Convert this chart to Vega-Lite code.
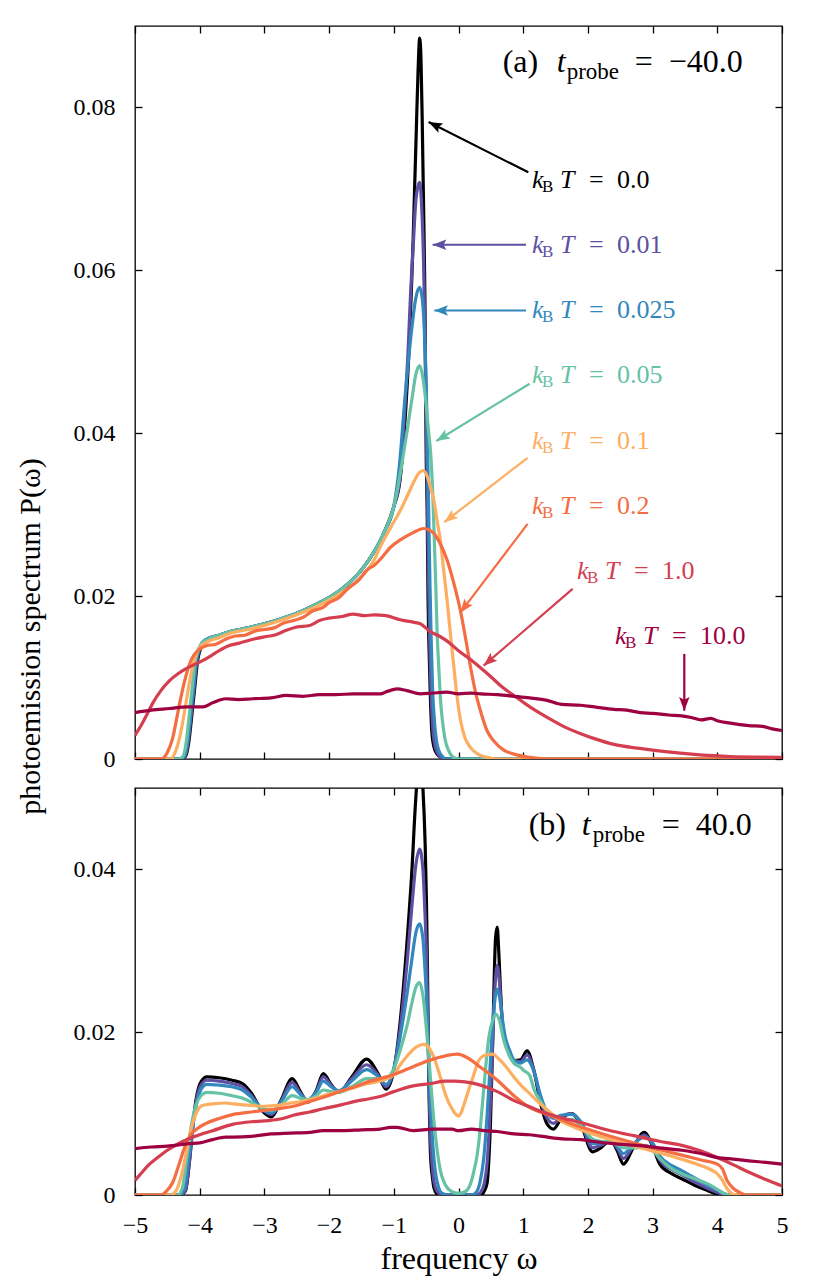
{
  "$schema": "https://vega.github.io/schema/vega-lite/v6.json",
  "padding": {"left": 14, "top": 24, "right": 10, "bottom": 5},
  "spacing": 29,
  "bounds": "flush",
  "config": {
    "font": "Liberation Serif, DejaVu Serif, serif",
    "text": {"font": "Liberation Serif, DejaVu Serif, serif"},
    "view": {"stroke": "black", "strokeWidth": 1.3},
    "axis": {"domain": false, "grid": false, "tickColor": "black", "tickWidth": 1.3, "tickSize": -7, "labelFont": "Liberation Serif, DejaVu Serif, serif", "titleFont": "Liberation Serif, DejaVu Serif, serif", "labelFontSize": 24, "labelColor": "black", "titleColor": "black", "titleFontWeight": "normal", "labelFlush": false}
  },
  "datasets": {
    "a": [
      {"k":"0.0","x":-5,"y":0},{"k":"0.0","x":-4.3,"y":0},{"k":"0.0","x":-4.22,"y":0.0003},{"k":"0.0","x":-4.17,"y":0.002},{"k":"0.0","x":-4.12,"y":0.0055},{"k":"0.0","x":-4.08,"y":0.0085},{"k":"0.0","x":-4.03,"y":0.0122},{"k":"0.0","x":-3.97,"y":0.0139},{"k":"0.0","x":-3.9,"y":0.0146},{"k":"0.0","x":-3.7,"y":0.0152},{"k":"0.0","x":-3.5,"y":0.0157},{"k":"0.0","x":-3.25,"y":0.0161},{"k":"0.0","x":-3,"y":0.0166},{"k":"0.0","x":-2.75,"y":0.0172},{"k":"0.0","x":-2.5,"y":0.0179},{"k":"0.0","x":-2.25,"y":0.0188},{"k":"0.0","x":-2,"y":0.0198},{"k":"0.0","x":-1.75,"y":0.0212},{"k":"0.0","x":-1.5,"y":0.0232},{"k":"0.0","x":-1.3,"y":0.0255},{"k":"0.0","x":-1.15,"y":0.0278},{"k":"0.0","x":-1,"y":0.031},{"k":"0.0","x":-0.9,"y":0.0345},{"k":"0.0","x":-0.8,"y":0.045},{"k":"0.0","x":-0.76,"y":0.051},{"k":"0.0","x":-0.73,"y":0.0573},{"k":"0.0","x":-0.7,"y":0.064},{"k":"0.0","x":-0.68,"y":0.0696},{"k":"0.0","x":-0.65,"y":0.0778},{"k":"0.0","x":-0.625,"y":0.0845},{"k":"0.0","x":-0.6,"y":0.0885},{"k":"0.0","x":-0.58,"y":0.086},{"k":"0.0","x":-0.56,"y":0.078},{"k":"0.0","x":-0.54,"y":0.068},{"k":"0.0","x":-0.52,"y":0.057},{"k":"0.0","x":-0.507,"y":0.045},{"k":"0.0","x":-0.5,"y":0.038},{"k":"0.0","x":-0.485,"y":0.031},{"k":"0.0","x":-0.47,"y":0.0194},{"k":"0.0","x":-0.45,"y":0.012},{"k":"0.0","x":-0.433,"y":0.0072},{"k":"0.0","x":-0.41,"y":0.0031},{"k":"0.0","x":-0.38,"y":0.0015},{"k":"0.0","x":-0.33,"y":0.0006},{"k":"0.0","x":-0.25,"y":0.0001},{"k":"0.0","x":-0.2,"y":0},{"k":"0.0","x":5,"y":0},

      {"k":"0.01","x":-5,"y":0},{"k":"0.01","x":-4.31,"y":0},{"k":"0.01","x":-4.23,"y":0.0003},{"k":"0.01","x":-4.18,"y":0.002},{"k":"0.01","x":-4.13,"y":0.0055},{"k":"0.01","x":-4.09,"y":0.0085},{"k":"0.01","x":-4.04,"y":0.0122},{"k":"0.01","x":-3.98,"y":0.0139},{"k":"0.01","x":-3.91,"y":0.0146},{"k":"0.01","x":-3.7,"y":0.0152},{"k":"0.01","x":-3.5,"y":0.0157},{"k":"0.01","x":-3.25,"y":0.0161},{"k":"0.01","x":-3,"y":0.0166},{"k":"0.01","x":-2.75,"y":0.0172},{"k":"0.01","x":-2.5,"y":0.0179},{"k":"0.01","x":-2.25,"y":0.0188},{"k":"0.01","x":-2,"y":0.0198},{"k":"0.01","x":-1.75,"y":0.0212},{"k":"0.01","x":-1.5,"y":0.0232},{"k":"0.01","x":-1.3,"y":0.0255},{"k":"0.01","x":-1.15,"y":0.0278},{"k":"0.01","x":-1,"y":0.031},{"k":"0.01","x":-0.9,"y":0.0348},{"k":"0.01","x":-0.83,"y":0.043},{"k":"0.01","x":-0.78,"y":0.05},{"k":"0.01","x":-0.74,"y":0.0573},{"k":"0.01","x":-0.7,"y":0.063},{"k":"0.01","x":-0.66,"y":0.0685},{"k":"0.01","x":-0.62,"y":0.0705},{"k":"0.01","x":-0.6,"y":0.0708},{"k":"0.01","x":-0.57,"y":0.068},{"k":"0.01","x":-0.54,"y":0.061},{"k":"0.01","x":-0.52,"y":0.053},{"k":"0.01","x":-0.5,"y":0.042},{"k":"0.01","x":-0.48,"y":0.031},{"k":"0.01","x":-0.46,"y":0.021},{"k":"0.01","x":-0.44,"y":0.0125},{"k":"0.01","x":-0.42,"y":0.0072},{"k":"0.01","x":-0.4,"y":0.004},{"k":"0.01","x":-0.36,"y":0.0015},{"k":"0.01","x":-0.3,"y":0.0004},{"k":"0.01","x":-0.22,"y":0},{"k":"0.01","x":5,"y":0},

      {"k":"0.025","x":-5,"y":0},{"k":"0.025","x":-4.32,"y":0},{"k":"0.025","x":-4.24,"y":0.0003},{"k":"0.025","x":-4.19,"y":0.002},{"k":"0.025","x":-4.14,"y":0.0055},{"k":"0.025","x":-4.1,"y":0.0085},{"k":"0.025","x":-4.05,"y":0.0122},{"k":"0.025","x":-3.99,"y":0.0139},{"k":"0.025","x":-3.92,"y":0.0146},{"k":"0.025","x":-3.7,"y":0.0152},{"k":"0.025","x":-3.5,"y":0.0157},{"k":"0.025","x":-3.25,"y":0.0161},{"k":"0.025","x":-3,"y":0.0166},{"k":"0.025","x":-2.75,"y":0.0172},{"k":"0.025","x":-2.5,"y":0.0179},{"k":"0.025","x":-2.25,"y":0.0188},{"k":"0.025","x":-2,"y":0.0198},{"k":"0.025","x":-1.75,"y":0.0212},{"k":"0.025","x":-1.5,"y":0.0232},{"k":"0.025","x":-1.3,"y":0.0255},{"k":"0.025","x":-1.15,"y":0.0278},{"k":"0.025","x":-1,"y":0.031},{"k":"0.025","x":-0.92,"y":0.0355},{"k":"0.025","x":-0.82,"y":0.045},{"k":"0.025","x":-0.72,"y":0.053},{"k":"0.025","x":-0.66,"y":0.0566},{"k":"0.025","x":-0.6,"y":0.0579},{"k":"0.025","x":-0.56,"y":0.0565},{"k":"0.025","x":-0.53,"y":0.053},{"k":"0.025","x":-0.5,"y":0.046},{"k":"0.025","x":-0.48,"y":0.039},{"k":"0.025","x":-0.46,"y":0.03},{"k":"0.025","x":-0.44,"y":0.021},{"k":"0.025","x":-0.42,"y":0.014},{"k":"0.025","x":-0.4,"y":0.0085},{"k":"0.025","x":-0.37,"y":0.0045},{"k":"0.025","x":-0.33,"y":0.0018},{"k":"0.025","x":-0.27,"y":0.0005},{"k":"0.025","x":-0.18,"y":0},{"k":"0.025","x":5,"y":0},

      {"k":"0.05","x":-5,"y":0},{"k":"0.05","x":-4.34,"y":0},{"k":"0.05","x":-4.26,"y":0.0003},{"k":"0.05","x":-4.21,"y":0.002},{"k":"0.05","x":-4.16,"y":0.0055},{"k":"0.05","x":-4.12,"y":0.0085},{"k":"0.05","x":-4.07,"y":0.0121},{"k":"0.05","x":-4,"y":0.0138},{"k":"0.05","x":-3.92,"y":0.0145},{"k":"0.05","x":-3.7,"y":0.0152},{"k":"0.05","x":-3.5,"y":0.0157},{"k":"0.05","x":-3.25,"y":0.0161},{"k":"0.05","x":-3,"y":0.0166},{"k":"0.05","x":-2.75,"y":0.0172},{"k":"0.05","x":-2.5,"y":0.0179},{"k":"0.05","x":-2.25,"y":0.0188},{"k":"0.05","x":-2,"y":0.0198},{"k":"0.05","x":-1.75,"y":0.0212},{"k":"0.05","x":-1.5,"y":0.0232},{"k":"0.05","x":-1.3,"y":0.0255},{"k":"0.05","x":-1.15,"y":0.0278},{"k":"0.05","x":-1,"y":0.031},{"k":"0.05","x":-0.95,"y":0.0328},{"k":"0.05","x":-0.87,"y":0.0365},{"k":"0.05","x":-0.8,"y":0.04},{"k":"0.05","x":-0.72,"y":0.0442},{"k":"0.05","x":-0.66,"y":0.0472},{"k":"0.05","x":-0.6,"y":0.0483},{"k":"0.05","x":-0.55,"y":0.0468},{"k":"0.05","x":-0.5,"y":0.0435},{"k":"0.05","x":-0.46,"y":0.04},{"k":"0.05","x":-0.43,"y":0.0375},{"k":"0.05","x":-0.4,"y":0.033},{"k":"0.05","x":-0.37,"y":0.026},{"k":"0.05","x":-0.35,"y":0.021},{"k":"0.05","x":-0.33,"y":0.0155},{"k":"0.05","x":-0.3,"y":0.0105},{"k":"0.05","x":-0.28,"y":0.0075},{"k":"0.05","x":-0.25,"y":0.0048},{"k":"0.05","x":-0.21,"y":0.0025},{"k":"0.05","x":-0.15,"y":0.001},{"k":"0.05","x":-0.08,"y":0.0002},{"k":"0.05","x":0,"y":0},{"k":"0.05","x":5,"y":0},

      {"k":"0.1","x":-5,"y":0},{"k":"0.1","x":-4.45,"y":0},{"k":"0.1","x":-4.38,"y":0.0008},{"k":"0.1","x":-4.3,"y":0.003},{"k":"0.1","x":-4.22,"y":0.0065},{"k":"0.1","x":-4.15,"y":0.0098},{"k":"0.1","x":-4.08,"y":0.0123},{"k":"0.1","x":-4,"y":0.0137},{"k":"0.1","x":-3.9,"y":0.0143},{"k":"0.1","x":-3.7,"y":0.0149},{"k":"0.1","x":-3.5,"y":0.0155},{"k":"0.1","x":-3.25,"y":0.0159},{"k":"0.1","x":-3,"y":0.0164},{"k":"0.1","x":-2.75,"y":0.017},{"k":"0.1","x":-2.5,"y":0.0177},{"k":"0.1","x":-2.25,"y":0.0185},{"k":"0.1","x":-2,"y":0.0195},{"k":"0.1","x":-1.75,"y":0.0207},{"k":"0.1","x":-1.5,"y":0.0224},{"k":"0.1","x":-1.3,"y":0.0245},{"k":"0.1","x":-1.2,"y":0.0262},{"k":"0.1","x":-1.05,"y":0.0284},{"k":"0.1","x":-0.9,"y":0.0305},{"k":"0.1","x":-0.78,"y":0.0325},{"k":"0.1","x":-0.68,"y":0.0342},{"k":"0.1","x":-0.6,"y":0.0352},{"k":"0.1","x":-0.54,"y":0.0354},{"k":"0.1","x":-0.48,"y":0.0346},{"k":"0.1","x":-0.42,"y":0.033},{"k":"0.1","x":-0.38,"y":0.0317},{"k":"0.1","x":-0.33,"y":0.0292},{"k":"0.1","x":-0.28,"y":0.0268},{"k":"0.1","x":-0.23,"y":0.0232},{"k":"0.1","x":-0.175,"y":0.0194},{"k":"0.1","x":-0.12,"y":0.015},{"k":"0.1","x":-0.072,"y":0.0113},{"k":"0.1","x":-0.02,"y":0.0075},{"k":"0.1","x":0.03,"y":0.0048},{"k":"0.1","x":0.1,"y":0.0026},{"k":"0.1","x":0.186,"y":0.0014},{"k":"0.1","x":0.3,"y":0.0006},{"k":"0.1","x":0.44,"y":0.0002},{"k":"0.1","x":0.6,"y":0},{"k":"0.1","x":5,"y":0},

      {"k":"0.2","x":-5,"y":0},{"k":"0.2","x":-4.6,"y":0},{"k":"0.2","x":-4.5,"y":0.0008},{"k":"0.2","x":-4.42,"y":0.0025},{"k":"0.2","x":-4.35,"y":0.0052},{"k":"0.2","x":-4.29,"y":0.0076},{"k":"0.2","x":-4.22,"y":0.01},{"k":"0.2","x":-4.13,"y":0.0122},{"k":"0.2","x":-4.03,"y":0.0133},{"k":"0.2","x":-3.9,"y":0.0139},{"k":"0.2","x":-3.75,"y":0.0141},{"k":"0.2","x":-3.6,"y":0.0147},{"k":"0.2","x":-3.45,"y":0.0151},{"k":"0.2","x":-3.3,"y":0.0152},{"k":"0.2","x":-3.15,"y":0.0157},{"k":"0.2","x":-3,"y":0.0159},{"k":"0.2","x":-2.85,"y":0.0161},{"k":"0.2","x":-2.7,"y":0.0167},{"k":"0.2","x":-2.55,"y":0.017},{"k":"0.2","x":-2.4,"y":0.0174},{"k":"0.2","x":-2.25,"y":0.0182},{"k":"0.2","x":-2.1,"y":0.0186},{"k":"0.2","x":-2,"y":0.0192},{"k":"0.2","x":-1.85,"y":0.0198},{"k":"0.2","x":-1.7,"y":0.021},{"k":"0.2","x":-1.55,"y":0.0219},{"k":"0.2","x":-1.4,"y":0.0233},{"k":"0.2","x":-1.3,"y":0.0238},{"k":"0.2","x":-1.21,"y":0.0245},{"k":"0.2","x":-1.05,"y":0.026},{"k":"0.2","x":-0.9,"y":0.0269},{"k":"0.2","x":-0.7,"y":0.0278},{"k":"0.2","x":-0.54,"y":0.0283},{"k":"0.2","x":-0.45,"y":0.0281},{"k":"0.2","x":-0.38,"y":0.0277},{"k":"0.2","x":-0.28,"y":0.0264},{"k":"0.2","x":-0.175,"y":0.0244},{"k":"0.2","x":-0.07,"y":0.0215},{"k":"0.2","x":0.03,"y":0.0182},{"k":"0.2","x":0.11,"y":0.0148},{"k":"0.2","x":0.186,"y":0.0113},{"k":"0.2","x":0.26,"y":0.0083},{"k":"0.2","x":0.34,"y":0.0059},{"k":"0.2","x":0.44,"y":0.0035},{"k":"0.2","x":0.546,"y":0.0022},{"k":"0.2","x":0.7,"y":0.0011},{"k":"0.2","x":0.856,"y":0.0006},{"k":"0.2","x":1.1,"y":0.0002},{"k":"0.2","x":1.4,"y":0},{"k":"0.2","x":5,"y":0},

      {"k":"1.0","x":-5,"y":0.0029},{"k":"1.0","x":-4.9,"y":0.0042},{"k":"1.0","x":-4.8,"y":0.0057},{"k":"1.0","x":-4.73,"y":0.0068},{"k":"1.0","x":-4.6,"y":0.0084},{"k":"1.0","x":-4.47,"y":0.0096},{"k":"1.0","x":-4.33,"y":0.0105},{"k":"1.0","x":-4.21,"y":0.0111},{"k":"1.0","x":-4.08,"y":0.0116},{"k":"1.0","x":-3.95,"y":0.0121},{"k":"1.0","x":-3.82,"y":0.0127},{"k":"1.0","x":-3.7,"y":0.0133},{"k":"1.0","x":-3.55,"y":0.0139},{"k":"1.0","x":-3.4,"y":0.0142},{"k":"1.0","x":-3.18,"y":0.0147},{"k":"1.0","x":-3,"y":0.015},{"k":"1.0","x":-2.85,"y":0.0152},{"k":"1.0","x":-2.66,"y":0.0158},{"k":"1.0","x":-2.5,"y":0.0162},{"k":"1.0","x":-2.3,"y":0.0164},{"k":"1.0","x":-2.15,"y":0.017},{"k":"1.0","x":-2,"y":0.0173},{"k":"1.0","x":-1.8,"y":0.0175},{"k":"1.0","x":-1.63,"y":0.0178},{"k":"1.0","x":-1.45,"y":0.0176},{"k":"1.0","x":-1.3,"y":0.0177},{"k":"1.0","x":-1.12,"y":0.0176},{"k":"1.0","x":-0.9,"y":0.0171},{"k":"1.0","x":-0.7,"y":0.0168},{"k":"1.0","x":-0.59,"y":0.0166},{"k":"1.0","x":-0.43,"y":0.0156},{"k":"1.0","x":-0.3,"y":0.0151},{"k":"1.0","x":-0.18,"y":0.0145},{"k":"1.0","x":0,"y":0.0133},{"k":"1.0","x":0.17,"y":0.0123},{"k":"1.0","x":0.34,"y":0.0112},{"k":"1.0","x":0.5,"y":0.0101},{"k":"1.0","x":0.68,"y":0.0088},{"k":"1.0","x":0.856,"y":0.0078},{"k":"1.0","x":1.03,"y":0.0068},{"k":"1.0","x":1.2,"y":0.0059},{"k":"1.0","x":1.37,"y":0.0051},{"k":"1.0","x":1.6,"y":0.0041},{"k":"1.0","x":1.89,"y":0.0031},{"k":"1.0","x":2.1,"y":0.0025},{"k":"1.0","x":2.4,"y":0.0018},{"k":"1.0","x":2.8,"y":0.0013},{"k":"1.0","x":3.2,"y":0.0009},{"k":"1.0","x":3.6,"y":0.0006},{"k":"1.0","x":4.2,"y":0.0003},{"k":"1.0","x":5,"y":0.0002},

      {"k":"10.0","x":-5,"y":0.0057},{"k":"10.0","x":-4.75,"y":0.006},{"k":"10.0","x":-4.47,"y":0.0062},{"k":"10.0","x":-4.2,"y":0.0064},{"k":"10.0","x":-3.95,"y":0.0064},{"k":"10.0","x":-3.8,"y":0.0069},{"k":"10.0","x":-3.6,"y":0.0074},{"k":"10.0","x":-3.4,"y":0.0073},{"k":"10.0","x":-3.18,"y":0.0074},{"k":"10.0","x":-2.9,"y":0.0075},{"k":"10.0","x":-2.66,"y":0.0078},{"k":"10.0","x":-2.4,"y":0.0077},{"k":"10.0","x":-2.15,"y":0.0079},{"k":"10.0","x":-1.9,"y":0.0079},{"k":"10.0","x":-1.63,"y":0.008},{"k":"10.0","x":-1.4,"y":0.008},{"k":"10.0","x":-1.21,"y":0.008},{"k":"10.0","x":-1.1,"y":0.0083},{"k":"10.0","x":-0.95,"y":0.0086},{"k":"10.0","x":-0.8,"y":0.0084},{"k":"10.0","x":-0.59,"y":0.008},{"k":"10.0","x":-0.4,"y":0.0081},{"k":"10.0","x":-0.18,"y":0.0082},{"k":"10.0","x":0,"y":0.008},{"k":"10.0","x":0.2,"y":0.0081},{"k":"10.0","x":0.34,"y":0.008},{"k":"10.0","x":0.6,"y":0.0079},{"k":"10.0","x":0.86,"y":0.0077},{"k":"10.0","x":1.1,"y":0.0075},{"k":"10.0","x":1.37,"y":0.0072},{"k":"10.0","x":1.6,"y":0.0067},{"k":"10.0","x":1.89,"y":0.0066},{"k":"10.0","x":2.1,"y":0.0064},{"k":"10.0","x":2.4,"y":0.0061},{"k":"10.0","x":2.6,"y":0.006},{"k":"10.0","x":2.81,"y":0.0057},{"k":"10.0","x":3,"y":0.0056},{"k":"10.0","x":3.25,"y":0.0054},{"k":"10.0","x":3.45,"y":0.0053},{"k":"10.0","x":3.6,"y":0.0051},{"k":"10.0","x":3.75,"y":0.0048},{"k":"10.0","x":3.9,"y":0.005},{"k":"10.0","x":4,"y":0.0047},{"k":"10.0","x":4.2,"y":0.0044},{"k":"10.0","x":4.49,"y":0.0041},{"k":"10.0","x":4.7,"y":0.004},{"k":"10.0","x":4.85,"y":0.0037},{"k":"10.0","x":5,"y":0.0035}
    ],
    "b": [
      {"k":"0.0","x":-5,"y":0},{"k":"0.0","x":-4.3,"y":0},{"k":"0.0","x":-4.22,"y":0.0005},{"k":"0.0","x":-4.16,"y":0.004},{"k":"0.0","x":-4.1,"y":0.009},{"k":"0.0","x":-4.05,"y":0.012},{"k":"0.0","x":-3.98,"y":0.0139},{"k":"0.0","x":-3.89,"y":0.0145},{"k":"0.0","x":-3.7,"y":0.0144},{"k":"0.0","x":-3.5,"y":0.0141},{"k":"0.0","x":-3.34,"y":0.0137},{"k":"0.0","x":-3.2,"y":0.0125},{"k":"0.0","x":-3.05,"y":0.0105},{"k":"0.0","x":-2.89,"y":0.0096},{"k":"0.0","x":-2.75,"y":0.0115},{"k":"0.0","x":-2.57,"y":0.0143},{"k":"0.0","x":-2.45,"y":0.0128},{"k":"0.0","x":-2.33,"y":0.0114},{"k":"0.0","x":-2.2,"y":0.0128},{"k":"0.0","x":-2.09,"y":0.0149},{"k":"0.0","x":-1.97,"y":0.0136},{"k":"0.0","x":-1.85,"y":0.0126},{"k":"0.0","x":-1.65,"y":0.0145},{"k":"0.0","x":-1.42,"y":0.0167},{"k":"0.0","x":-1.25,"y":0.015},{"k":"0.0","x":-1.12,"y":0.013},{"k":"0.0","x":-1,"y":0.0153},{"k":"0.0","x":-0.9,"y":0.0214},{"k":"0.0","x":-0.79,"y":0.0317},{"k":"0.0","x":-0.72,"y":0.0399},{"k":"0.0","x":-0.665,"y":0.0481},{"k":"0.0","x":-0.6,"y":0.054},{"k":"0.0","x":-0.55,"y":0.05},{"k":"0.0","x":-0.515,"y":0.043},{"k":"0.0","x":-0.495,"y":0.036},{"k":"0.0","x":-0.48,"y":0.028},{"k":"0.0","x":-0.465,"y":0.018},{"k":"0.0","x":-0.45,"y":0.0105},{"k":"0.0","x":-0.433,"y":0.005},{"k":"0.0","x":-0.4,"y":0.002},{"k":"0.0","x":-0.38,"y":0.0009},{"k":"0.0","x":-0.33,"y":0.0001},{"k":"0.0","x":-0.28,"y":0},{"k":"0.0","x":0.35,"y":0},{"k":"0.0","x":0.4,"y":0.0005},{"k":"0.0","x":0.443,"y":0.0015},{"k":"0.0","x":0.47,"y":0.0045},{"k":"0.0","x":0.495,"y":0.0091},{"k":"0.0","x":0.536,"y":0.0214},{"k":"0.0","x":0.572,"y":0.0315},{"k":"0.0","x":0.598,"y":0.0329},{"k":"0.0","x":0.624,"y":0.0296},{"k":"0.0","x":0.65,"y":0.025},{"k":"0.0","x":0.675,"y":0.0214},{"k":"0.0","x":0.71,"y":0.0192},{"k":"0.0","x":0.753,"y":0.0181},{"k":"0.0","x":0.856,"y":0.0165},{"k":"0.0","x":0.959,"y":0.0166},{"k":"0.0","x":1.06,"y":0.0177},{"k":"0.0","x":1.165,"y":0.0153},{"k":"0.0","x":1.27,"y":0.0112},{"k":"0.0","x":1.37,"y":0.0087},{"k":"0.0","x":1.47,"y":0.0081},{"k":"0.0","x":1.58,"y":0.0093},{"k":"0.0","x":1.75,"y":0.01},{"k":"0.0","x":1.9,"y":0.0085},{"k":"0.0","x":2.07,"y":0.0053},{"k":"0.0","x":2.2,"y":0.0058},{"k":"0.0","x":2.35,"y":0.0067},{"k":"0.0","x":2.45,"y":0.0055},{"k":"0.0","x":2.55,"y":0.0038},{"k":"0.0","x":2.7,"y":0.0058},{"k":"0.0","x":2.87,"y":0.0077},{"k":"0.0","x":3,"y":0.006},{"k":"0.0","x":3.11,"y":0.0038},{"k":"0.0","x":3.3,"y":0.0026},{"k":"0.0","x":3.45,"y":0.002},{"k":"0.0","x":3.65,"y":0.0012},{"k":"0.0","x":3.8,"y":0.0007},{"k":"0.0","x":4,"y":0.0001},{"k":"0.0","x":4.1,"y":0},{"k":"0.0","x":5,"y":0},

      {"k":"0.01","x":-5,"y":0},{"k":"0.01","x":-4.3,"y":0},{"k":"0.01","x":-4.22,"y":0.0006},{"k":"0.01","x":-4.16,"y":0.004},{"k":"0.01","x":-4.1,"y":0.0088},{"k":"0.01","x":-4.05,"y":0.0117},{"k":"0.01","x":-3.98,"y":0.0135},{"k":"0.01","x":-3.89,"y":0.0141},{"k":"0.01","x":-3.7,"y":0.014},{"k":"0.01","x":-3.5,"y":0.0137},{"k":"0.01","x":-3.34,"y":0.0133},{"k":"0.01","x":-3.2,"y":0.0122},{"k":"0.01","x":-3.05,"y":0.0106},{"k":"0.01","x":-2.89,"y":0.0099},{"k":"0.01","x":-2.75,"y":0.0114},{"k":"0.01","x":-2.57,"y":0.0138},{"k":"0.01","x":-2.45,"y":0.0126},{"k":"0.01","x":-2.33,"y":0.0116},{"k":"0.01","x":-2.2,"y":0.0127},{"k":"0.01","x":-2.09,"y":0.0145},{"k":"0.01","x":-1.97,"y":0.0135},{"k":"0.01","x":-1.85,"y":0.0127},{"k":"0.01","x":-1.65,"y":0.0143},{"k":"0.01","x":-1.42,"y":0.016},{"k":"0.01","x":-1.25,"y":0.0148},{"k":"0.01","x":-1.12,"y":0.0133},{"k":"0.01","x":-1,"y":0.0155},{"k":"0.01","x":-0.9,"y":0.0205},{"k":"0.01","x":-0.79,"y":0.029},{"k":"0.01","x":-0.72,"y":0.0355},{"k":"0.01","x":-0.66,"y":0.0405},{"k":"0.01","x":-0.6,"y":0.0425},{"k":"0.01","x":-0.55,"y":0.04},{"k":"0.01","x":-0.52,"y":0.035},{"k":"0.01","x":-0.49,"y":0.028},{"k":"0.01","x":-0.47,"y":0.019},{"k":"0.01","x":-0.45,"y":0.0115},{"k":"0.01","x":-0.43,"y":0.0065},{"k":"0.01","x":-0.4,"y":0.003},{"k":"0.01","x":-0.36,"y":0.001},{"k":"0.01","x":-0.3,"y":0.0002},{"k":"0.01","x":-0.22,"y":0},{"k":"0.01","x":0.28,"y":0},{"k":"0.01","x":0.34,"y":0.0003},{"k":"0.01","x":0.4,"y":0.0015},{"k":"0.01","x":0.443,"y":0.004},{"k":"0.01","x":0.48,"y":0.009},{"k":"0.01","x":0.52,"y":0.017},{"k":"0.01","x":0.56,"y":0.025},{"k":"0.01","x":0.598,"y":0.0282},{"k":"0.01","x":0.635,"y":0.026},{"k":"0.01","x":0.675,"y":0.0215},{"k":"0.01","x":0.72,"y":0.019},{"k":"0.01","x":0.79,"y":0.0175},{"k":"0.01","x":0.856,"y":0.0165},{"k":"0.01","x":0.959,"y":0.0164},{"k":"0.01","x":1.06,"y":0.0172},{"k":"0.01","x":1.165,"y":0.0153},{"k":"0.01","x":1.27,"y":0.0117},{"k":"0.01","x":1.37,"y":0.0094},{"k":"0.01","x":1.47,"y":0.0088},{"k":"0.01","x":1.58,"y":0.0096},{"k":"0.01","x":1.75,"y":0.01},{"k":"0.01","x":1.9,"y":0.0087},{"k":"0.01","x":2.07,"y":0.0058},{"k":"0.01","x":2.2,"y":0.0061},{"k":"0.01","x":2.35,"y":0.0067},{"k":"0.01","x":2.45,"y":0.0058},{"k":"0.01","x":2.55,"y":0.0045},{"k":"0.01","x":2.7,"y":0.006},{"k":"0.01","x":2.87,"y":0.0074},{"k":"0.01","x":3,"y":0.0062},{"k":"0.01","x":3.11,"y":0.0043},{"k":"0.01","x":3.3,"y":0.0031},{"k":"0.01","x":3.45,"y":0.0025},{"k":"0.01","x":3.65,"y":0.0016},{"k":"0.01","x":3.8,"y":0.001},{"k":"0.01","x":4,"y":0.0003},{"k":"0.01","x":4.1,"y":0.0001},{"k":"0.01","x":4.2,"y":0},{"k":"0.01","x":5,"y":0},

      {"k":"0.025","x":-5,"y":0},{"k":"0.025","x":-4.32,"y":0},{"k":"0.025","x":-4.24,"y":0.0007},{"k":"0.025","x":-4.17,"y":0.0045},{"k":"0.025","x":-4.1,"y":0.0088},{"k":"0.025","x":-4.04,"y":0.0115},{"k":"0.025","x":-3.97,"y":0.0131},{"k":"0.025","x":-3.89,"y":0.0136},{"k":"0.025","x":-3.7,"y":0.0135},{"k":"0.025","x":-3.5,"y":0.0133},{"k":"0.025","x":-3.34,"y":0.0129},{"k":"0.025","x":-3.2,"y":0.012},{"k":"0.025","x":-3.05,"y":0.0107},{"k":"0.025","x":-2.89,"y":0.0101},{"k":"0.025","x":-2.75,"y":0.0113},{"k":"0.025","x":-2.57,"y":0.0133},{"k":"0.025","x":-2.45,"y":0.0124},{"k":"0.025","x":-2.33,"y":0.0117},{"k":"0.025","x":-2.2,"y":0.0126},{"k":"0.025","x":-2.09,"y":0.014},{"k":"0.025","x":-1.97,"y":0.0133},{"k":"0.025","x":-1.85,"y":0.0128},{"k":"0.025","x":-1.65,"y":0.014},{"k":"0.025","x":-1.42,"y":0.0154},{"k":"0.025","x":-1.25,"y":0.0146},{"k":"0.025","x":-1.12,"y":0.0136},{"k":"0.025","x":-1,"y":0.0155},{"k":"0.025","x":-0.9,"y":0.0195},{"k":"0.025","x":-0.79,"y":0.025},{"k":"0.025","x":-0.72,"y":0.029},{"k":"0.025","x":-0.66,"y":0.0322},{"k":"0.025","x":-0.6,"y":0.0333},{"k":"0.025","x":-0.55,"y":0.0315},{"k":"0.025","x":-0.52,"y":0.028},{"k":"0.025","x":-0.49,"y":0.0235},{"k":"0.025","x":-0.46,"y":0.017},{"k":"0.025","x":-0.43,"y":0.011},{"k":"0.025","x":-0.4,"y":0.0065},{"k":"0.025","x":-0.36,"y":0.003},{"k":"0.025","x":-0.31,"y":0.001},{"k":"0.025","x":-0.25,"y":0.0002},{"k":"0.025","x":-0.15,"y":0},{"k":"0.025","x":0.2,"y":0},{"k":"0.025","x":0.27,"y":0.0003},{"k":"0.025","x":0.33,"y":0.0015},{"k":"0.025","x":0.39,"y":0.0045},{"k":"0.025","x":0.44,"y":0.0095},{"k":"0.025","x":0.49,"y":0.016},{"k":"0.025","x":0.54,"y":0.0222},{"k":"0.025","x":0.598,"y":0.0253},{"k":"0.025","x":0.635,"y":0.0243},{"k":"0.025","x":0.68,"y":0.0215},{"k":"0.025","x":0.72,"y":0.0195},{"k":"0.025","x":0.79,"y":0.0178},{"k":"0.025","x":0.856,"y":0.0166},{"k":"0.025","x":0.959,"y":0.0162},{"k":"0.025","x":1.06,"y":0.0166},{"k":"0.025","x":1.165,"y":0.0152},{"k":"0.025","x":1.27,"y":0.0122},{"k":"0.025","x":1.37,"y":0.0101},{"k":"0.025","x":1.47,"y":0.0094},{"k":"0.025","x":1.58,"y":0.0098},{"k":"0.025","x":1.75,"y":0.0099},{"k":"0.025","x":1.9,"y":0.0089},{"k":"0.025","x":2.07,"y":0.0063},{"k":"0.025","x":2.2,"y":0.0064},{"k":"0.025","x":2.35,"y":0.0067},{"k":"0.025","x":2.45,"y":0.006},{"k":"0.025","x":2.55,"y":0.0051},{"k":"0.025","x":2.7,"y":0.0062},{"k":"0.025","x":2.87,"y":0.0071},{"k":"0.025","x":3,"y":0.0064},{"k":"0.025","x":3.11,"y":0.0048},{"k":"0.025","x":3.3,"y":0.0036},{"k":"0.025","x":3.45,"y":0.003},{"k":"0.025","x":3.65,"y":0.0021},{"k":"0.025","x":3.8,"y":0.0014},{"k":"0.025","x":4,"y":0.0006},{"k":"0.025","x":4.1,"y":0.0002},{"k":"0.025","x":4.2,"y":0},{"k":"0.025","x":5,"y":0},

      {"k":"0.05","x":-5,"y":0},{"k":"0.05","x":-4.35,"y":0},{"k":"0.05","x":-4.27,"y":0.0008},{"k":"0.05","x":-4.2,"y":0.0045},{"k":"0.05","x":-4.13,"y":0.0085},{"k":"0.05","x":-4.06,"y":0.011},{"k":"0.05","x":-3.98,"y":0.0122},{"k":"0.05","x":-3.89,"y":0.0126},{"k":"0.05","x":-3.7,"y":0.0125},{"k":"0.05","x":-3.5,"y":0.0122},{"k":"0.05","x":-3.34,"y":0.0119},{"k":"0.05","x":-3.2,"y":0.0114},{"k":"0.05","x":-3.05,"y":0.0107},{"k":"0.05","x":-2.89,"y":0.0104},{"k":"0.05","x":-2.75,"y":0.011},{"k":"0.05","x":-2.57,"y":0.0122},{"k":"0.05","x":-2.45,"y":0.0119},{"k":"0.05","x":-2.33,"y":0.0117},{"k":"0.05","x":-2.2,"y":0.0122},{"k":"0.05","x":-2.09,"y":0.0129},{"k":"0.05","x":-1.97,"y":0.0127},{"k":"0.05","x":-1.85,"y":0.0126},{"k":"0.05","x":-1.65,"y":0.0133},{"k":"0.05","x":-1.42,"y":0.0143},{"k":"0.05","x":-1.25,"y":0.0143},{"k":"0.05","x":-1.12,"y":0.0143},{"k":"0.05","x":-1,"y":0.0155},{"k":"0.05","x":-0.9,"y":0.0178},{"k":"0.05","x":-0.79,"y":0.021},{"k":"0.05","x":-0.72,"y":0.0236},{"k":"0.05","x":-0.66,"y":0.0255},{"k":"0.05","x":-0.6,"y":0.0261},{"k":"0.05","x":-0.55,"y":0.0245},{"k":"0.05","x":-0.485,"y":0.0194},{"k":"0.05","x":-0.43,"y":0.014},{"k":"0.05","x":-0.38,"y":0.0091},{"k":"0.05","x":-0.33,"y":0.0055},{"k":"0.05","x":-0.28,"y":0.003},{"k":"0.05","x":-0.2,"y":0.0012},{"k":"0.05","x":-0.1,"y":0.0004},{"k":"0.05","x":0,"y":0.0002},{"k":"0.05","x":0.1,"y":0.0004},{"k":"0.05","x":0.186,"y":0.0014},{"k":"0.05","x":0.24,"y":0.003},{"k":"0.05","x":0.29,"y":0.005},{"k":"0.05","x":0.34,"y":0.0085},{"k":"0.05","x":0.39,"y":0.013},{"k":"0.05","x":0.47,"y":0.0194},{"k":"0.05","x":0.53,"y":0.0215},{"k":"0.05","x":0.58,"y":0.0222},{"k":"0.05","x":0.63,"y":0.0215},{"k":"0.05","x":0.7,"y":0.019},{"k":"0.05","x":0.78,"y":0.0172},{"k":"0.05","x":0.856,"y":0.0162},{"k":"0.05","x":0.959,"y":0.0157},{"k":"0.05","x":1.01,"y":0.0153},{"k":"0.05","x":1.1,"y":0.0147},{"k":"0.05","x":1.165,"y":0.013},{"k":"0.05","x":1.27,"y":0.0115},{"k":"0.05","x":1.37,"y":0.0103},{"k":"0.05","x":1.47,"y":0.0098},{"k":"0.05","x":1.58,"y":0.0093},{"k":"0.05","x":1.75,"y":0.0093},{"k":"0.05","x":1.9,"y":0.0085},{"k":"0.05","x":2.07,"y":0.0069},{"k":"0.05","x":2.2,"y":0.0066},{"k":"0.05","x":2.35,"y":0.0065},{"k":"0.05","x":2.45,"y":0.0062},{"k":"0.05","x":2.55,"y":0.0058},{"k":"0.05","x":2.76,"y":0.0058},{"k":"0.05","x":2.9,"y":0.0061},{"k":"0.05","x":3,"y":0.0055},{"k":"0.05","x":3.11,"y":0.0045},{"k":"0.05","x":3.3,"y":0.0032},{"k":"0.05","x":3.45,"y":0.0026},{"k":"0.05","x":3.65,"y":0.002},{"k":"0.05","x":3.87,"y":0.0013},{"k":"0.05","x":4,"y":0.0007},{"k":"0.05","x":4.1,"y":0.0002},{"k":"0.05","x":4.18,"y":0},{"k":"0.05","x":5,"y":0},

      {"k":"0.1","x":-5,"y":0},{"k":"0.1","x":-4.45,"y":0},{"k":"0.1","x":-4.36,"y":0.0006},{"k":"0.1","x":-4.28,"y":0.0025},{"k":"0.1","x":-4.2,"y":0.0055},{"k":"0.1","x":-4.12,"y":0.0085},{"k":"0.1","x":-4.04,"y":0.0103},{"k":"0.1","x":-3.96,"y":0.011},{"k":"0.1","x":-3.8,"y":0.0112},{"k":"0.1","x":-3.6,"y":0.0113},{"k":"0.1","x":-3.48,"y":0.0112},{"k":"0.1","x":-3.2,"y":0.011},{"k":"0.1","x":-3,"y":0.0109},{"k":"0.1","x":-2.78,"y":0.011},{"k":"0.1","x":-2.6,"y":0.0113},{"k":"0.1","x":-2.4,"y":0.0115},{"k":"0.1","x":-2.2,"y":0.0119},{"k":"0.1","x":-2.09,"y":0.0122},{"k":"0.1","x":-1.9,"y":0.0126},{"k":"0.1","x":-1.7,"y":0.013},{"k":"0.1","x":-1.4,"y":0.0137},{"k":"0.1","x":-1.21,"y":0.014},{"k":"0.1","x":-1,"y":0.0148},{"k":"0.1","x":-0.9,"y":0.016},{"k":"0.1","x":-0.78,"y":0.0172},{"k":"0.1","x":-0.65,"y":0.0182},{"k":"0.1","x":-0.536,"y":0.0185},{"k":"0.1","x":-0.45,"y":0.018},{"k":"0.1","x":-0.38,"y":0.0169},{"k":"0.1","x":-0.3,"y":0.015},{"k":"0.1","x":-0.227,"y":0.013},{"k":"0.1","x":-0.16,"y":0.0115},{"k":"0.1","x":-0.1,"y":0.0106},{"k":"0.1","x":-0.04,"y":0.0099},{"k":"0.1","x":0,"y":0.0097},{"k":"0.1","x":0.04,"y":0.0101},{"k":"0.1","x":0.08,"y":0.011},{"k":"0.1","x":0.16,"y":0.013},{"k":"0.1","x":0.237,"y":0.0148},{"k":"0.1","x":0.31,"y":0.0165},{"k":"0.1","x":0.39,"y":0.0171},{"k":"0.1","x":0.52,"y":0.0173},{"k":"0.1","x":0.65,"y":0.0165},{"k":"0.1","x":0.75,"y":0.0156},{"k":"0.1","x":0.856,"y":0.0145},{"k":"0.1","x":1,"y":0.0132},{"k":"0.1","x":1.11,"y":0.0124},{"k":"0.1","x":1.25,"y":0.0113},{"k":"0.1","x":1.38,"y":0.0104},{"k":"0.1","x":1.6,"y":0.009},{"k":"0.1","x":1.8,"y":0.0083},{"k":"0.1","x":2.07,"y":0.0075},{"k":"0.1","x":2.4,"y":0.0067},{"k":"0.1","x":2.76,"y":0.0059},{"k":"0.1","x":3.1,"y":0.0052},{"k":"0.1","x":3.45,"y":0.0044},{"k":"0.1","x":3.75,"y":0.0036},{"k":"0.1","x":3.9,"y":0.0031},{"k":"0.1","x":4,"y":0.0026},{"k":"0.1","x":4.08,"y":0.0018},{"k":"0.1","x":4.15,"y":0.0008},{"k":"0.1","x":4.22,"y":0.0002},{"k":"0.1","x":4.3,"y":0},{"k":"0.1","x":5,"y":0},

      {"k":"0.2","x":-5,"y":0},{"k":"0.2","x":-4.6,"y":0},{"k":"0.2","x":-4.51,"y":0.0005},{"k":"0.2","x":-4.42,"y":0.0015},{"k":"0.2","x":-4.33,"y":0.0035},{"k":"0.2","x":-4.24,"y":0.0057},{"k":"0.2","x":-4.13,"y":0.0075},{"k":"0.2","x":-4.03,"y":0.0082},{"k":"0.2","x":-3.9,"y":0.0088},{"k":"0.2","x":-3.7,"y":0.0094},{"k":"0.2","x":-3.48,"y":0.0099},{"k":"0.2","x":-3.2,"y":0.0102},{"k":"0.2","x":-3,"y":0.0104},{"k":"0.2","x":-2.78,"y":0.0106},{"k":"0.2","x":-2.5,"y":0.011},{"k":"0.2","x":-2.3,"y":0.0115},{"k":"0.2","x":-2.09,"y":0.012},{"k":"0.2","x":-1.8,"y":0.0128},{"k":"0.2","x":-1.6,"y":0.0133},{"k":"0.2","x":-1.4,"y":0.0139},{"k":"0.2","x":-1.21,"y":0.0143},{"k":"0.2","x":-1,"y":0.0148},{"k":"0.2","x":-0.69,"y":0.0158},{"k":"0.2","x":-0.43,"y":0.0166},{"k":"0.2","x":-0.2,"y":0.0171},{"k":"0.2","x":-0.015,"y":0.0173},{"k":"0.2","x":0.15,"y":0.0168},{"k":"0.2","x":0.34,"y":0.0157},{"k":"0.2","x":0.6,"y":0.0141},{"k":"0.2","x":0.856,"y":0.0122},{"k":"0.2","x":1.11,"y":0.0107},{"k":"0.2","x":1.37,"y":0.0099},{"k":"0.2","x":1.6,"y":0.0092},{"k":"0.2","x":1.8,"y":0.0086},{"k":"0.2","x":2.07,"y":0.0079},{"k":"0.2","x":2.4,"y":0.0071},{"k":"0.2","x":2.76,"y":0.0063},{"k":"0.2","x":3.1,"y":0.0056},{"k":"0.2","x":3.45,"y":0.0049},{"k":"0.2","x":3.75,"y":0.0043},{"k":"0.2","x":4,"y":0.0038},{"k":"0.2","x":4.08,"y":0.0032},{"k":"0.2","x":4.15,"y":0.0018},{"k":"0.2","x":4.25,"y":0.0008},{"k":"0.2","x":4.35,"y":0.0003},{"k":"0.2","x":4.45,"y":0},{"k":"0.2","x":5,"y":0},

      {"k":"1.0","x":-5,"y":0.0018},{"k":"1.0","x":-4.9,"y":0.0027},{"k":"1.0","x":-4.8,"y":0.0036},{"k":"1.0","x":-4.65,"y":0.0046},{"k":"1.0","x":-4.5,"y":0.0055},{"k":"1.0","x":-4.33,"y":0.0063},{"k":"1.0","x":-4.17,"y":0.0069},{"k":"1.0","x":-4,"y":0.0074},{"k":"1.0","x":-3.8,"y":0.0079},{"k":"1.0","x":-3.48,"y":0.0087},{"k":"1.0","x":-3.2,"y":0.009},{"k":"1.0","x":-3,"y":0.0091},{"k":"1.0","x":-2.78,"y":0.0093},{"k":"1.0","x":-2.5,"y":0.0099},{"k":"1.0","x":-2.3,"y":0.0102},{"k":"1.0","x":-2.09,"y":0.0106},{"k":"1.0","x":-1.8,"y":0.0111},{"k":"1.0","x":-1.6,"y":0.0115},{"k":"1.0","x":-1.4,"y":0.0118},{"k":"1.0","x":-1.21,"y":0.0121},{"k":"1.0","x":-1,"y":0.0127},{"k":"1.0","x":-0.7,"y":0.0134},{"k":"1.0","x":-0.43,"y":0.0137},{"k":"1.0","x":-0.2,"y":0.014},{"k":"1.0","x":-0.07,"y":0.014},{"k":"1.0","x":0.1,"y":0.0139},{"k":"1.0","x":0.34,"y":0.0135},{"k":"1.0","x":0.6,"y":0.0127},{"k":"1.0","x":0.86,"y":0.0116},{"k":"1.0","x":1.11,"y":0.0108},{"k":"1.0","x":1.37,"y":0.01},{"k":"1.0","x":1.63,"y":0.0094},{"k":"1.0","x":1.89,"y":0.0089},{"k":"1.0","x":2.07,"y":0.0085},{"k":"1.0","x":2.4,"y":0.0078},{"k":"1.0","x":2.76,"y":0.0072},{"k":"1.0","x":3.1,"y":0.0066},{"k":"1.0","x":3.45,"y":0.0061},{"k":"1.0","x":3.75,"y":0.0054},{"k":"1.0","x":4,"y":0.0046},{"k":"1.0","x":4.25,"y":0.0037},{"k":"1.0","x":4.49,"y":0.0028},{"k":"1.0","x":4.75,"y":0.0019},{"k":"1.0","x":5,"y":0.0011},

      {"k":"10.0","x":-5,"y":0.0057},{"k":"10.0","x":-4.75,"y":0.0059},{"k":"10.0","x":-4.5,"y":0.006},{"k":"10.0","x":-4.17,"y":0.0063},{"k":"10.0","x":-4,"y":0.0064},{"k":"10.0","x":-3.8,"y":0.0068},{"k":"10.0","x":-3.6,"y":0.0071},{"k":"10.0","x":-3.48,"y":0.0071},{"k":"10.0","x":-3.2,"y":0.0072},{"k":"10.0","x":-2.9,"y":0.0075},{"k":"10.0","x":-2.6,"y":0.0076},{"k":"10.0","x":-2.3,"y":0.0077},{"k":"10.0","x":-2.09,"y":0.0079},{"k":"10.0","x":-1.8,"y":0.0079},{"k":"10.0","x":-1.5,"y":0.008},{"k":"10.0","x":-1.21,"y":0.0081},{"k":"10.0","x":-1.05,"y":0.0083},{"k":"10.0","x":-0.95,"y":0.0083},{"k":"10.0","x":-0.7,"y":0.0079},{"k":"10.0","x":-0.4,"y":0.0081},{"k":"10.0","x":-0.1,"y":0.0081},{"k":"10.0","x":0,"y":0.0079},{"k":"10.0","x":0.2,"y":0.0081},{"k":"10.0","x":0.4,"y":0.0079},{"k":"10.0","x":0.6,"y":0.0078},{"k":"10.0","x":0.86,"y":0.0075},{"k":"10.0","x":1.1,"y":0.0074},{"k":"10.0","x":1.38,"y":0.0071},{"k":"10.0","x":1.6,"y":0.0069},{"k":"10.0","x":1.89,"y":0.0068},{"k":"10.0","x":2.07,"y":0.0066},{"k":"10.0","x":2.4,"y":0.0063},{"k":"10.0","x":2.76,"y":0.0061},{"k":"10.0","x":3.1,"y":0.0058},{"k":"10.0","x":3.45,"y":0.0055},{"k":"10.0","x":3.75,"y":0.0051},{"k":"10.0","x":4,"y":0.0046},{"k":"10.0","x":4.25,"y":0.0044},{"k":"10.0","x":4.49,"y":0.0042},{"k":"10.0","x":4.75,"y":0.004},{"k":"10.0","x":5,"y":0.0038}
    ],
    "la": [
      {"k":"0.0","x":1.136,"y":0.07006},
      {"k":"0.01","x":1.136,"y":0.06208},
      {"k":"0.025","x":1.136,"y":0.05409},
      {"k":"0.05","x":1.136,"y":0.04611},
      {"k":"0.1","x":1.136,"y":0.03812},
      {"k":"0.2","x":1.136,"y":0.03014},
      {"k":"1.0","x":1.831,"y":0.02215},
      {"k":"10.0","x":2.419,"y":0.01417}
    ],
    "arr": [
      {"k":"0.0","x":1.079,"y":0.07203,"x2":-0.462,"y2":0.07821},
      {"k":"0.01","x":1.043,"y":0.06314,"x2":-0.4,"y2":0.06314},
      {"k":"0.025","x":1.043,"y":0.05507,"x2":-0.374,"y2":0.05507},
      {"k":"0.05","x":1.099,"y":0.04607,"x2":-0.343,"y2":0.03904},
      {"k":"0.1","x":1.068,"y":0.03698,"x2":-0.22,"y2":0.02907},
      {"k":"0.2","x":1.068,"y":0.02887,"x2":0.028,"y2":0.01797},
      {"k":"1.0","x":1.764,"y":0.02088,"x2":0.388,"y2":0.01146},
      {"k":"10.0","x":3.49,"y":0.0129,"x2":3.49,"y2":0.00593}
    ]
  },
  "vconcat": [
    {
      "width": 647,
      "height": 733,
      "layer": [
        {
          "data": {"name": "a"},
          "mark": {"type": "line", "strokeWidth": 3.2, "interpolate": "monotone", "clip": true, "strokeJoin": "round"},
          "encoding": {
            "x": {"field": "x", "type": "quantitative", "scale": {"domain": [-5, 5], "nice": false, "zero": false},
                  "axis": {"orient": "bottom", "values": [-5,-4,-3,-2,-1,0,1,2,3,4,5], "labels": false, "title": null}},
            "y": {"field": "y", "type": "quantitative", "scale": {"domain": [0, 0.09], "nice": false},
                  "axis": {"orient": "left", "values": [0,0.02,0.04,0.06,0.08], "labelExpr": "datum.value == 0 ? '0' : format(datum.value, '.2f')", "labelPadding": 27,
                           "title": "photoemission spectrum P(ω)", "titleFontSize": 30, "titleX": -105, "titleY": 610, "titleBaseline": "middle", "titleAngle": -90}},
            "color": {"field": "k", "type": "nominal", "legend": null, "scale": {"domain": ["0.0","0.01","0.025","0.05","0.1","0.2","1.0","10.0"], "range": ["#000000","#5e4fa2","#3288bd","#66c2a5","#fdae61","#f46d43","#d53e4f","#9e0142"]}}
          }
        },
        {
          "data": {"values": [{"x": 0, "y": 0}]},
          "mark": {"type": "point", "opacity": 0},
          "encoding": {
            "x": {"field": "x", "type": "quantitative", "axis": {"orient": "top", "values": [-5,-4,-3,-2,-1,0,1,2,3,4,5], "labels": false, "title": null}},
            "y": {"field": "y", "type": "quantitative", "axis": {"orient": "right", "values": [0,0.02,0.04,0.06,0.08], "labels": false, "title": null}}
          }
        },
        {
          "data": {"name": "arr"},
          "mark": {"type": "rule", "strokeWidth": 2.2},
          "encoding": {
            "x": {"field": "x", "type": "quantitative", "axis": null},
            "y": {"field": "y", "type": "quantitative", "axis": null},
            "x2": {"field": "x2"},
            "y2": {"field": "y2"},
            "color": {"field": "k", "type": "nominal", "legend": null}
          }
        },
        {
          "data": {"name": "arr"},
          "transform": [{"calculate": "atan2((datum.x2 - datum.x) * 64.7, (datum.y2 - datum.y) * 8140) * 180 / PI", "as": "ang"}],
          "mark": {"type": "point", "shape": "M0,0L1,2.6L0,2.1L-1,2.6Z", "filled": true, "size": 110, "opacity": 1, "strokeWidth": 0},
          "encoding": {
            "x": {"field": "x2", "type": "quantitative", "axis": null},
            "y": {"field": "y2", "type": "quantitative", "axis": null},
            "angle": {"field": "ang", "type": "quantitative", "scale": null},
            "color": {"field": "k", "type": "nominal", "legend": null}
          }
        },
        {
          "data": {"name": "la"},
          "mark": {"type": "text", "align": "left", "baseline": "alphabetic", "fontSize": 26, "fontStyle": "italic"},
          "encoding": {"x": {"field": "x", "type": "quantitative", "axis": null}, "y": {"field": "y", "type": "quantitative", "axis": null}, "text": {"value": "k"}, "color": {"field": "k", "type": "nominal", "legend": null}}
        },
        {
          "data": {"name": "la"},
          "mark": {"type": "text", "align": "left", "baseline": "alphabetic", "fontSize": 17, "dx": 10, "dy": 4},
          "encoding": {"x": {"field": "x", "type": "quantitative", "axis": null}, "y": {"field": "y", "type": "quantitative", "axis": null}, "text": {"value": "B"}, "color": {"field": "k", "type": "nominal", "legend": null}}
        },
        {
          "data": {"name": "la"},
          "mark": {"type": "text", "align": "left", "baseline": "alphabetic", "fontSize": 26, "fontStyle": "italic", "dx": 28},
          "encoding": {"x": {"field": "x", "type": "quantitative", "axis": null}, "y": {"field": "y", "type": "quantitative", "axis": null}, "text": {"value": "T"}, "color": {"field": "k", "type": "nominal", "legend": null}}
        },
        {
          "data": {"name": "la"},
          "mark": {"type": "text", "align": "left", "baseline": "alphabetic", "fontSize": 26, "dx": 57},
          "encoding": {"x": {"field": "x", "type": "quantitative", "axis": null}, "y": {"field": "y", "type": "quantitative", "axis": null}, "text": {"value": "="}, "color": {"field": "k", "type": "nominal", "legend": null}}
        },
        {
          "data": {"name": "la"},
          "mark": {"type": "text", "align": "left", "baseline": "alphabetic", "fontSize": 26, "dx": 85},
          "encoding": {"x": {"field": "x", "type": "quantitative", "axis": null}, "y": {"field": "y", "type": "quantitative", "axis": null}, "text": {"field": "k"}, "color": {"field": "k", "type": "nominal", "legend": null}}
        },
        {
          "data": {"values": [{"x": 0.683, "y": 0.08435}]},
          "mark": {"type": "text", "align": "left", "baseline": "alphabetic", "fontSize": 32, "color": "black"},
          "encoding": {"x": {"field": "x", "type": "quantitative", "axis": null}, "y": {"field": "y", "type": "quantitative", "axis": null}, "text": {"value": "(a)"}}
        },
        {
          "data": {"values": [{"x": 0.683, "y": 0.08435}]},
          "mark": {"type": "text", "align": "left", "baseline": "alphabetic", "fontSize": 32, "fontStyle": "italic", "color": "black", "dx": 54},
          "encoding": {"x": {"field": "x", "type": "quantitative", "axis": null}, "y": {"field": "y", "type": "quantitative", "axis": null}, "text": {"value": "t"}}
        },
        {
          "data": {"values": [{"x": 0.683, "y": 0.08435}]},
          "mark": {"type": "text", "align": "left", "baseline": "alphabetic", "fontSize": 23, "color": "black", "dx": 64, "dy": 7},
          "encoding": {"x": {"field": "x", "type": "quantitative", "axis": null}, "y": {"field": "y", "type": "quantitative", "axis": null}, "text": {"value": "probe"}}
        },
        {
          "data": {"values": [{"x": 0.683, "y": 0.08435}]},
          "mark": {"type": "text", "align": "left", "baseline": "alphabetic", "fontSize": 32, "color": "black", "dx": 132},
          "encoding": {"x": {"field": "x", "type": "quantitative", "axis": null}, "y": {"field": "y", "type": "quantitative", "axis": null}, "text": {"value": "="}}
        },
        {
          "data": {"values": [{"x": 0.683, "y": 0.08435}]},
          "mark": {"type": "text", "align": "left", "baseline": "alphabetic", "fontSize": 32, "color": "black", "dx": 166},
          "encoding": {"x": {"field": "x", "type": "quantitative", "axis": null}, "y": {"field": "y", "type": "quantitative", "axis": null}, "text": {"value": "−40.0"}}
        }
      ],
      "resolve": {"axis": {"x": "independent", "y": "independent"}}
    },
    {
      "width": 647,
      "height": 407,
      "layer": [
        {
          "data": {"name": "b"},
          "mark": {"type": "line", "strokeWidth": 3.2, "interpolate": "monotone", "clip": true, "strokeJoin": "round"},
          "encoding": {
            "x": {"field": "x", "type": "quantitative", "scale": {"domain": [-5, 5], "nice": false, "zero": false},
                  "axis": {"orient": "bottom", "values": [-5,-4,-3,-2,-1,0,1,2,3,4,5], "format": "d", "labelPadding": 25, "title": "frequency ω", "titleFontSize": 32, "titlePadding": 6}},
            "y": {"field": "y", "type": "quantitative", "scale": {"domain": [0, 0.05], "nice": false},
                  "axis": {"orient": "left", "values": [0,0.02,0.04], "labelExpr": "datum.value == 0 ? '0' : format(datum.value, '.2f')", "labelPadding": 27, "title": null}},
            "color": {"field": "k", "type": "nominal", "legend": null, "scale": {"domain": ["0.0","0.01","0.025","0.05","0.1","0.2","1.0","10.0"], "range": ["#000000","#5e4fa2","#3288bd","#66c2a5","#fdae61","#f46d43","#d53e4f","#9e0142"]}}
          }
        },
        {
          "data": {"values": [{"x": 0, "y": 0}]},
          "mark": {"type": "point", "opacity": 0},
          "encoding": {
            "x": {"field": "x", "type": "quantitative", "axis": {"orient": "top", "values": [-5,-4,-3,-2,-1,0,1,2,3,4,5], "labels": false, "title": null}},
            "y": {"field": "y", "type": "quantitative", "axis": {"orient": "right", "values": [0,0.02,0.04], "labels": false, "title": null}}
          }
        },
        {
          "data": {"values": [{"x": 1.085, "y": 0.04422}]},
          "mark": {"type": "text", "align": "left", "baseline": "alphabetic", "fontSize": 32, "color": "black"},
          "encoding": {"x": {"field": "x", "type": "quantitative", "axis": null}, "y": {"field": "y", "type": "quantitative", "axis": null}, "text": {"value": "(b)"}}
        },
        {
          "data": {"values": [{"x": 1.085, "y": 0.04422}]},
          "mark": {"type": "text", "align": "left", "baseline": "alphabetic", "fontSize": 32, "fontStyle": "italic", "color": "black", "dx": 53},
          "encoding": {"x": {"field": "x", "type": "quantitative", "axis": null}, "y": {"field": "y", "type": "quantitative", "axis": null}, "text": {"value": "t"}}
        },
        {
          "data": {"values": [{"x": 1.085, "y": 0.04422}]},
          "mark": {"type": "text", "align": "left", "baseline": "alphabetic", "fontSize": 23, "color": "black", "dx": 64, "dy": 7},
          "encoding": {"x": {"field": "x", "type": "quantitative", "axis": null}, "y": {"field": "y", "type": "quantitative", "axis": null}, "text": {"value": "probe"}}
        },
        {
          "data": {"values": [{"x": 1.085, "y": 0.04422}]},
          "mark": {"type": "text", "align": "left", "baseline": "alphabetic", "fontSize": 32, "color": "black", "dx": 133},
          "encoding": {"x": {"field": "x", "type": "quantitative", "axis": null}, "y": {"field": "y", "type": "quantitative", "axis": null}, "text": {"value": "="}}
        },
        {
          "data": {"values": [{"x": 1.085, "y": 0.04422}]},
          "mark": {"type": "text", "align": "left", "baseline": "alphabetic", "fontSize": 32, "color": "black", "dx": 167},
          "encoding": {"x": {"field": "x", "type": "quantitative", "axis": null}, "y": {"field": "y", "type": "quantitative", "axis": null}, "text": {"value": "40.0"}}
        }
      ],
      "resolve": {"axis": {"x": "independent", "y": "independent"}}
    }
  ]
}
